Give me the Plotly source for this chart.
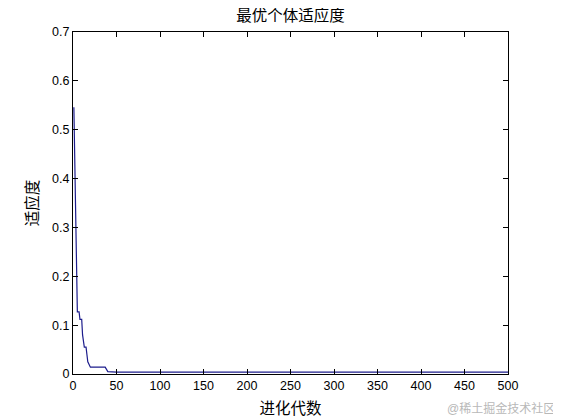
import plotly.graph_objects as go

# best fitness per generation (breakpoints)
generations = [1, 2, 3, 4, 5, 7, 8, 10, 11, 13, 15, 16, 17, 20, 37, 40, 50, 500]
fitness = [0.546, 0.415, 0.29, 0.19, 0.127, 0.127, 0.112, 0.112, 0.08, 0.055,
           0.055, 0.04, 0.025, 0.014, 0.014, 0.005, 0.004, 0.004]

x_ticks = [0, 50, 100, 150, 200, 250, 300, 350, 400, 450, 500]
y_ticks = [0, 0.1, 0.2, 0.3, 0.4, 0.5, 0.6, 0.7]

font = "Liberation Sans, Noto Sans CJK SC, sans-serif"

fig = go.Figure()
fig.add_trace(go.Scatter(x=generations, y=fitness, mode='lines',
                         line=dict(color='#1c1c8c', width=1.2), showlegend=False))

axis_style = dict(showline=True, linecolor='black', linewidth=1, mirror='ticks',
                  ticks='inside', ticklen=5, tickcolor='black', showgrid=False,
                  zeroline=False, tickfont=dict(size=12.5, color='black'))

fig.update_xaxes(range=[0, 500], tickvals=x_ticks,
                 title=dict(text='进化代数', font=dict(size=15.5, color='black'), standoff=11),
                 **axis_style)
fig.update_yaxes(range=[0, 0.7], tickvals=y_ticks, tickformat='.1~f',
                 title=dict(text='适应度', font=dict(size=15.5, color='black'), standoff=9),
                 **axis_style)

# page body adds an 8px offset, margins compensate for it
fig.update_layout(
    width=561, height=420,
    margin=dict(l=65, r=61, t=24, b=54, autoexpand=False),
    paper_bgcolor='white', plot_bgcolor='white',
    font=dict(family=font, color='black'),
    title=dict(text='最优个体适应度', x=0.5, xref='paper', y=0.981, yanchor='middle',
               font=dict(size=15.5, color='black')),
)
fig.add_annotation(text='@稀土掘金技术社区', xref='paper', yref='paper', x=1.113, y=-0.102,
                   xanchor='right', yanchor='middle', showarrow=False,
                   font=dict(size=12, color='#b8b8b8'))

fig.write_html("out.html")
